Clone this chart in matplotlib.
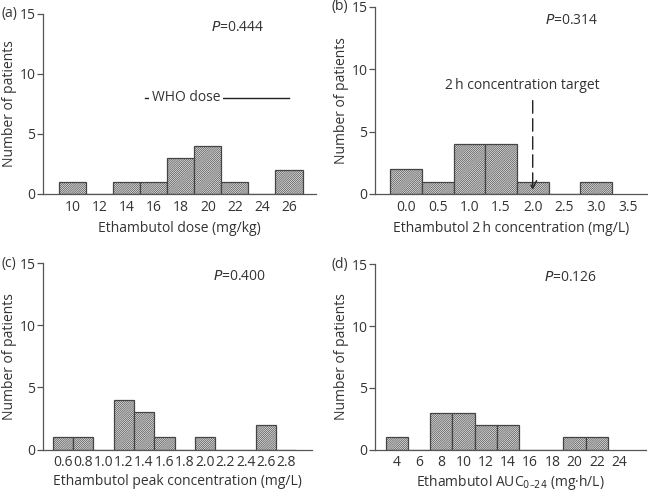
import matplotlib
matplotlib.use("Agg")
import matplotlib.pyplot as plt

plt.rcParams['font.family'] = ['Open Sans', 'DejaVu Sans']
plt.rcParams['hatch.color'] = '#777777'
plt.rcParams['hatch.linewidth'] = 0.45

# (a) dose
dose_bins = [10, 12, 14, 16, 18, 20, 22, 24, 26]
dose_counts = [1, 0, 1, 1, 3, 4, 1, 0, 2]
# (b) 2 h concentration
c2h_bins = [0.0, 0.5, 1.0, 1.5, 2.0, 2.5, 3.0]
c2h_counts = [2, 1, 4, 4, 1, 0, 1]
c2h_ticks = [0.0, 0.5, 1.0, 1.5, 2.0, 2.5, 3.0, 3.5]
# (c) peak
peak_bins = [0.6, 0.8, 1.0, 1.2, 1.4, 1.6, 1.8, 2.0, 2.2, 2.4, 2.6, 2.8]
peak_counts = [1, 1, 0, 4, 3, 1, 0, 1, 0, 0, 2, 0]
# (d) AUC
auc_bins = [4, 6, 8, 10, 12, 14, 16, 18, 20, 22]
auc_counts = [1, 0, 3, 3, 2, 2, 0, 0, 1, 1]
auc_ticks = [4, 6, 8, 10, 12, 14, 16, 18, 20, 22, 24]

fig = plt.figure(figsize=(6.48, 4.94), dpi=100)
axa = fig.add_axes([0.0664, 0.6073, 0.4213, 0.3644])
axb = fig.add_axes([0.5787, 0.6073, 0.4193, 0.3791])
axc = fig.add_axes([0.0664, 0.0897, 0.4146, 0.3779])
axd = fig.add_axes([0.5787, 0.0897, 0.4178, 0.3753])

spine_col = '#555555'
txt_col = '#333333'


def style(ax, letter, lx, xlim, ticks, ticklabels, xlabel, ptxt, px, lpad=5):
    ax.set_xlim(*xlim)
    ax.set_ylim(0, 15)
    ax.set_yticks([0, 5, 10, 15])
    ax.set_xticks(ticks)
    ax.set_xticklabels(ticklabels)
    for s in ['top', 'right']:
        ax.spines[s].set_visible(False)
    for s in ['left', 'bottom']:
        ax.spines[s].set_color(spine_col)
        ax.spines[s].set_linewidth(0.9)
    ax.tick_params(axis='x', length=0, pad=4, labelsize=10, colors=txt_col)
    ax.tick_params(axis='y', length=4, width=0.9, color=spine_col, labelsize=10,
                   labelcolor=txt_col, pad=1.5)
    ax.set_xlabel(xlabel, fontsize=10, color=txt_col, labelpad=lpad)
    ax.set_ylabel('Number of patients', fontsize=10, color=txt_col, labelpad=2)
    ax.annotate('(%s)' % letter, xy=(lx, 15), xycoords=('figure pixels', 'data'),
                fontsize=10, color=txt_col, ha='left', va='center')
    ax.text(px, 13.9, ptxt, fontsize=10, color=txt_col, ha='center', va='center')


def bars(ax, x, h, w):
    ax.bar(x, h, width=w, color='#e6e6e6', edgecolor='#444444', linewidth=0.9,
           hatch='/' * 16)


bars(axa, dose_bins, dose_counts, 2)
style(axa, 'a', 1, (7.8, 28), dose_bins, [str(v) for v in dose_bins],
      'Ethambutol dose (mg/kg)', '$\\it{P}$=0.444', 22.2)
axa.plot([15.35, 26.0], [8, 8], color='#222222', lw=1)
axa.text(18.4, 8, 'WHO dose', fontsize=10, color=txt_col, ha='center', va='center',
         bbox=dict(facecolor='white', edgecolor='none', pad=2))

bars(axb, c2h_bins, c2h_counts, 0.5)
style(axb, 'b', 331, (-0.49, 3.8), c2h_ticks, ['%.1f' % v for v in c2h_ticks],
      'Ethambutol 2\u2009h concentration (mg/L)', '$\\it{P}$=0.314', 2.62)
axb.annotate('', xy=(2.0, 0.1), xytext=(2.0, 7.7),
             arrowprops=dict(arrowstyle='->', color='#222222', lw=1,
                             linestyle=(0, (9, 4)), mutation_scale=14))
axb.text(1.84, 8.7, '2\u2009h concentration target', fontsize=10, color=txt_col,
         ha='center', va='center')

bars(axc, peak_bins, peak_counts, 0.2)
style(axc, 'c', 1, (0.406, 3.05), peak_bins, ['%.1f' % v for v in peak_bins],
      'Ethambutol peak concentration (mg/L)', '$\\it{P}$=0.400', 2.34, lpad=3)

bars(axd, auc_bins, auc_counts, 2)
style(axd, 'd', 331, (2.04, 26.4), auc_ticks, [str(v) for v in auc_ticks],
      'Ethambutol AUC$_{0\u201324}$ (mg\u00b7h/L)', '$\\it{P}$=0.126', 19.6, lpad=2)

fig.savefig('out.png', dpi=100)
